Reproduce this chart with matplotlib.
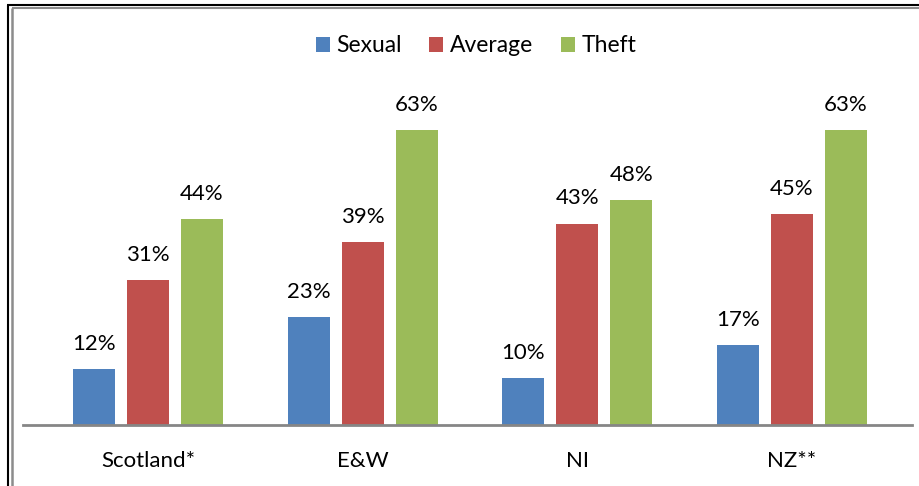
import matplotlib
matplotlib.use("Agg")
import matplotlib.pyplot as plt
from matplotlib.lines import Line2D
from matplotlib.patches import Patch
import numpy as np

categories = ["Scotland*", "E&W", "NI", "NZ**"]
series_names = ["Sexual", "Average", "Theft"]
sexual = [12, 23, 10, 17]
average = [31, 39, 43, 45]
theft = [44, 63, 48, 63]
colors = ["#4F81BD", "#C0504D", "#9BBB59"]

W, H = 919, 486
fig = plt.figure(figsize=(W / 100, H / 100), dpi=100)
plt.rcParams['font.family'] = ['Lato', 'DejaVu Sans']

# axes placement in pixels
ax_left, ax_right = 23, 912
ax_bottom, ax_top = 425, 15
ax = fig.add_axes([ax_left / W, 1 - ax_bottom / H, (ax_right - ax_left) / W, (ax_bottom - ax_top) / H])

px_per_unit = 214.67
x = np.arange(len(categories))
ax.set_xlim(-125 / px_per_unit, 3 + 120 / px_per_unit)
px_per_pct = 295 / 63
ax.set_ylim(0, (ax_bottom - ax_top) / px_per_pct)

bw = 42 / px_per_unit
step = 54 / px_per_unit
data = [sexual, average, theft]
for i, (vals, c) in enumerate(zip(data, colors)):
    pos = x + (i - 1) * step
    bars = ax.bar(pos, vals, width=bw, color=c, edgecolor='none', zorder=2)
    for b, v in zip(bars, vals):
        ax.annotate(f"{v}%", (b.get_x() + b.get_width() / 2, v), xytext=(0, 11),
                    textcoords='offset points', ha='center', va='bottom',
                    fontsize=16, color='black')

for s in ['top', 'right', 'left']:
    ax.spines[s].set_visible(False)
ax.spines['bottom'].set_color('#868686')
ax.spines['bottom'].set_linewidth(2)
ax.set_yticks([])
ax.set_xticks(x)
ax.set_xticklabels(categories, fontsize=16)
ax.tick_params(axis='x', length=0, pad=19)

handles = [Patch(facecolor=c, edgecolor='none') for c in colors]
fig.legend(handles, series_names, loc='center', bbox_to_anchor=(476 / W, 1 - 46 / H),
           ncol=3, frameon=False, fontsize=16.5, handlelength=0.6, handleheight=0.6,
           handletextpad=0.3, columnspacing=1.2)

# outer frame lines
def fl(xs, ys, color, lw):
    fig.add_artist(Line2D([v / W for v in xs], [1 - v / H for v in ys], color=color, lw=lw,
                          transform=fig.transFigure, solid_capstyle='butt'))

fl([7.5, 7.5], [5, H], 'black', 1.5)
fl([7, W], [5.5, 5.5], 'black', 1.5)
fl([12, 12], [8, H], '#8c8c8c', 1.8)
fl([12, W], [8, 8], '#8c8c8c', 1.5)

fig.savefig("out.png", dpi=100)
